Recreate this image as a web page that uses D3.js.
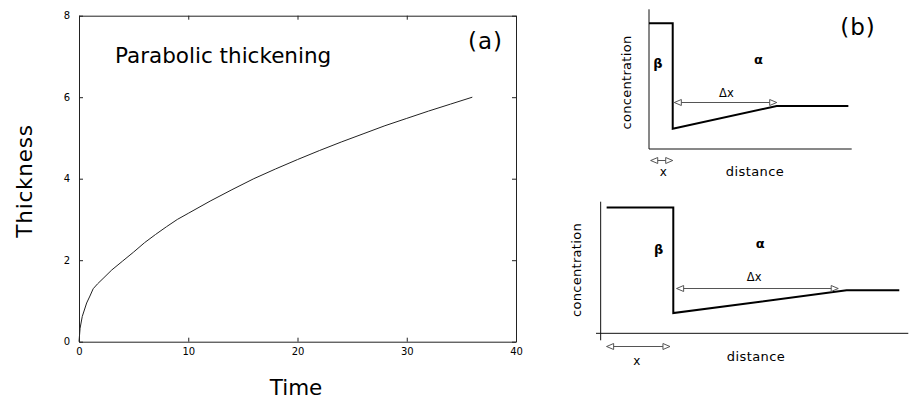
<!DOCTYPE html>
<html>
<head>
<meta charset="utf-8">
<script src="https://cdn.jsdelivr.net/npm/d3@7"></script>
<style>
  html, body { margin: 0; padding: 0; background: #fff; }
  svg { display: block; }
  text { font-family: "DejaVu Sans", sans-serif; fill: #000; }
</style>
</head>
<body>
<svg id="chart" width="909" height="400"></svg>
<script>
// ---------- Panel (a): parabolic thickening ----------
const timeValues = [0, 0.1, 0.3, 0.7, 1.0, 1.3, 1.7, 2.2, 3, 4, 5, 6, 7, 8, 9, 10, 12, 14, 16, 18, 20, 22, 24, 26, 28, 30, 32, 34, 36];
const thicknessValues = [0, 0.33, 0.62, 0.95, 1.12, 1.3, 1.42, 1.55, 1.76, 1.98, 2.2, 2.43, 2.63, 2.82, 3.0, 3.15, 3.45, 3.73, 4.0, 4.24, 4.47, 4.69, 4.9, 5.1, 5.3, 5.48, 5.66, 5.83, 6.0];
const xTicks = [0, 10, 20, 30, 40];
const yTicks = [0, 2, 4, 6, 8];
const xDomain = [0, 40];
const yDomain = [0, 8];

// ---------- Panel (b): concentration profiles ----------
// distance / concentration in arbitrary units
const topAxisDist = [0, 20];
const topAxisConc = [0, 10];
const topProfileDist = [0, 2.34, 2.34, 12.6, 19.67];
const topProfileConc = [9.0, 9.0, 1.45, 3.08, 3.08];
const topDeltaXArrow = { dist: [2.5, 12.6], conc: 3.39 };
const topXArrow = { dist: [0.17, 2.34], conc: -0.79 };

const botAxisDist = [-0.46, 30.37];
const botAxisConc = [-0.5, 9.42];
const botProfileDist = [0.59, 7.17, 7.17, 24.28, 29.48];
const botProfileConc = [9.0, 9.0, 1.45, 3.08, 3.08];
const botDeltaXArrow = { dist: [7.5, 23.45], conc: 3.22 };
const botXArrow = { dist: [0.59, 6.84], conc: -0.89 };

const svg = d3.select("#chart");

// ---- Panel (a) ----
const ax = { left: 79, right: 516, top: 15.7, bottom: 341.7 };
const x = d3.scaleLinear().domain(xDomain).range([ax.left, ax.right]);
const y = d3.scaleLinear().domain(yDomain).range([ax.bottom, ax.top]);

const axisColor = "#222";
function styleAxis(g) {
  g.selectAll("path.domain").attr("stroke", axisColor).attr("stroke-width", 1);
  g.selectAll(".tick line").attr("stroke", axisColor).attr("stroke-width", 1);
  g.selectAll(".tick text").attr("font-family", "DejaVu Sans, sans-serif").attr("font-size", 10).attr("fill", "#000");
}

svg.append("g").attr("transform", `translate(0,${ax.bottom})`)
  .call(d3.axisBottom(x).tickValues(xTicks).tickSizeInner(-4).tickSizeOuter(0).tickPadding(6).tickFormat(d3.format("d")))
  .call(styleAxis);
svg.append("g").attr("transform", `translate(${ax.left},0)`)
  .call(d3.axisLeft(y).tickValues(yTicks).tickSizeInner(-4).tickSizeOuter(0).tickPadding(9).tickFormat(d3.format("d")))
  .call(styleAxis);
svg.append("g").attr("transform", `translate(0,${ax.top})`)
  .call(d3.axisTop(x).tickValues(xTicks).tickSizeInner(-4).tickSizeOuter(0).tickFormat(""))
  .call(styleAxis);
svg.append("g").attr("transform", `translate(${ax.right},0)`)
  .call(d3.axisRight(y).tickValues(yTicks).tickSizeInner(-4).tickSizeOuter(0).tickFormat(""))
  .call(styleAxis);

const curve = timeValues.map((t, i) => [t, thicknessValues[i]]);
svg.append("path")
  .datum(curve)
  .attr("fill", "none")
  .attr("stroke", "#222")
  .attr("stroke-width", 1)
  .attr("d", d3.line().x(d => x(d[0])).y(d => y(d[1])));

svg.append("text").attr("x", 115).attr("y", 63.3).attr("font-size", 21.5).text("Parabolic thickening");
svg.append("text").attr("x", 485.5).attr("y", 48.5).attr("text-anchor", "middle").attr("font-size", 23).attr("letter-spacing", 1).text("(a)");
svg.append("text").attr("transform", `translate(31.5,181) rotate(-90)`).attr("text-anchor", "middle").attr("font-size", 21.5).attr("letter-spacing", 0.8).text("Thickness");
svg.append("text").attr("x", 296).attr("y", 395).attr("text-anchor", "middle").attr("font-size", 21.5).text("Time");

// ---- Panel (b) ----
function drawDiagram(cfg) {
  const g = svg.append("g");
  const xs = d3.scaleLinear().domain(cfg.axisDist).range(cfg.xRange);
  const ys = d3.scaleLinear().domain(cfg.axisConc).range(cfg.yRange);
  // axes
  g.append("line").attr("x1", xs(0)).attr("x2", xs(0)).attr("y1", ys(cfg.axisConc[0])).attr("y2", ys(cfg.axisConc[1])).attr("stroke", "#111");
  g.append("line").attr("x1", xs(cfg.axisDist[0])).attr("x2", xs(cfg.axisDist[1])).attr("y1", ys(0)).attr("y2", ys(0)).attr("stroke", "#111");
  // profile
  const pts = cfg.profDist.map((d, i) => [d, cfg.profConc[i]]);
  g.append("path").datum(pts).attr("fill", "none").attr("stroke", "#000").attr("stroke-width", 2)
    .attr("stroke-linejoin", "miter")
    .attr("d", d3.line().x(d => xs(d[0])).y(d => ys(d[1])));
  // arrows
  function arrow(a) {
    const x1 = xs(a.dist[0]), x2 = xs(a.dist[1]), yy = Math.round(ys(a.conc)) + 0.5;
    g.append("line").attr("x1", x1).attr("x2", x2).attr("y1", yy).attr("y2", yy).attr("stroke", "#555").attr("stroke-width", 1);
    const L = 7, H = 3;
    g.append("path").attr("d", `M${x1},${yy} L${x1 + L},${yy - H} L${x1 + L},${yy + H} Z`).attr("fill", "#fff").attr("stroke", "#555");
    g.append("path").attr("d", `M${x2},${yy} L${x2 - L},${yy - H} L${x2 - L},${yy + H} Z`).attr("fill", "#fff").attr("stroke", "#555");
  }
  arrow(cfg.dxArrow);
  arrow(cfg.xArrow);
  // labels
  const lab = cfg.labels;
  g.append("text").attr("x", lab.beta[0]).attr("y", lab.beta[1]).attr("text-anchor", "middle").attr("font-size", 13).attr("font-weight", "bold").text("β");
  g.append("text").attr("x", lab.alpha[0]).attr("y", lab.alpha[1]).attr("text-anchor", "middle").attr("font-size", 13).attr("font-weight", "bold").text("α");
  g.append("text").attr("x", lab.dx[0]).attr("y", lab.dx[1]).attr("text-anchor", "middle").attr("font-size", 11.5).attr("fill", "#333").text("Δx");
  g.append("text").attr("x", lab.x[0]).attr("y", lab.x[1]).attr("text-anchor", "middle").attr("font-size", 12).attr("fill", "#333").text("x");
  g.append("text").attr("x", lab.dist[0]).attr("y", lab.dist[1]).attr("text-anchor", "middle").attr("font-size", 13).attr("letter-spacing", 0.4).attr("fill", "#222").text("distance");
  g.append("text").attr("transform", `translate(${lab.conc[0]},${lab.conc[1]}) rotate(-90)`).attr("dy", "0.35em").attr("text-anchor", "middle").attr("font-size", 13).attr("letter-spacing", 0.3).attr("fill", "#222").text("concentration");
}

drawDiagram({
  axisDist: topAxisDist, axisConc: topAxisConc,
  xRange: [649, 851.7], yRange: [149, 9.3],
  profDist: topProfileDist, profConc: topProfileConc,
  dxArrow: topDeltaXArrow, xArrow: topXArrow,
  labels: { beta: [658, 68], alpha: [758.5, 64], dx: [726.4, 96.7], x: [663.3, 176], dist: [755, 176], conc: [626.7, 82.5] }
});
drawDiagram({
  axisDist: botAxisDist, axisConc: botAxisConc,
  xRange: [596, 908.3], yRange: [340.3, 201.7],
  profDist: botProfileDist, profConc: botProfileConc,
  dxArrow: botDeltaXArrow, xArrow: botXArrow,
  labels: { beta: [658.7, 254], alpha: [760.3, 248], dx: [754.2, 280.7], x: [636.7, 365], dist: [756, 360.7], conc: [576.7, 270] }
});

svg.append("text").attr("x", 858).attr("y", 35).attr("text-anchor", "middle").attr("font-size", 23).attr("letter-spacing", 1).text("(b)");
</script>
</body>
</html>
